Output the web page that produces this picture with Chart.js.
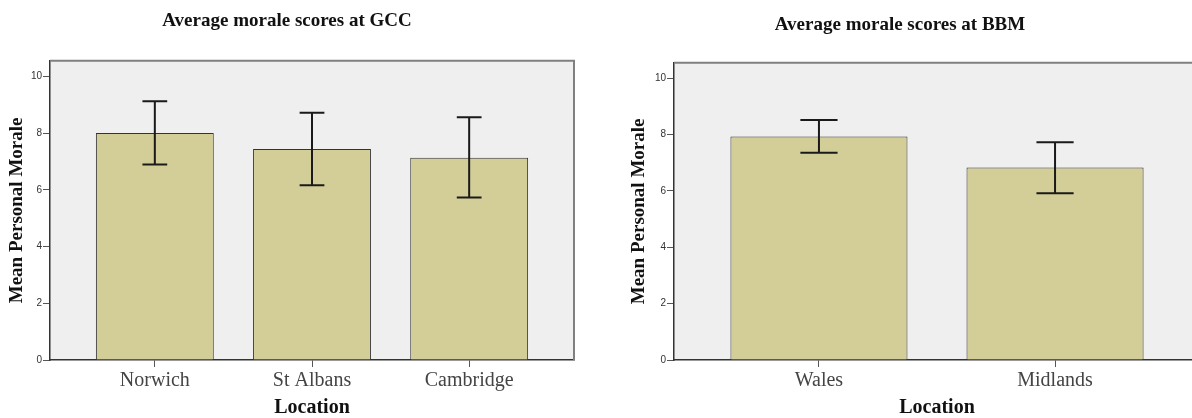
<!DOCTYPE html>
<html>
<head>
<meta charset="utf-8">
<script src="https://cdn.jsdelivr.net/npm/chart.js@4/dist/chart.umd.min.js"></script>
<style>
  html, body { margin: 0; padding: 0; background: #fff; overflow: hidden; width: 1192px; height: 418px; }
  #c1 { position: absolute; left: 0; top: 0; }
  #c2 { position: absolute; left: 600px; top: 0; }
</style>
</head>
<body>
<canvas id="c1" width="600" height="418"></canvas>
<canvas id="c2" width="620" height="418"></canvas>
<script>
// ---- data ----
const gccLocations = ['Norwich', 'St Albans', 'Cambridge'];
const gccMeans = [8.0, 7.44, 7.13];
const gccLower = [6.89, 6.16, 5.73];
const gccUpper = [9.12, 8.72, 8.56];

const bbmLocations = ['Wales', 'Midlands'];
const bbmMeans = [7.93, 6.83];
const bbmLower = [7.36, 5.92];
const bbmUpper = [8.52, 7.73];

const yTickStep = 2;
const yMin = 0;
const yMax = 10.55;

// ---- plugins ----
const frameBg = {
  id: 'frameBg',
  beforeDraw(chart) {
    const {ctx, chartArea: a} = chart;
    ctx.save();
    ctx.fillStyle = '#EFEFEF';
    ctx.fillRect(a.left, a.top, a.right - a.left, a.bottom - a.top);
    ctx.restore();
  },
  beforeDatasetsDraw(chart) {
    const {ctx, chartArea: a} = chart;
    ctx.save();
    ctx.strokeStyle = '#808080';
    ctx.lineWidth = 2;
    ctx.beginPath();
    ctx.moveTo(a.left, a.top);
    ctx.lineTo(a.right, a.top);
    ctx.lineTo(a.right, a.bottom);
    ctx.stroke();
    ctx.restore();
  }
};

const errorBars = {
  id: 'errorBars',
  afterDatasetsDraw(chart, args, opts) {
    const {ctx} = chart;
    const yScale = chart.scales.y;
    const meta = chart.getDatasetMeta(0);
    ctx.save();
    ctx.strokeStyle = '#1a1a1a';
    ctx.lineWidth = 2;
    meta.data.forEach((el, i) => {
      const x = el.x;
      const half = el.width * opts.capRatio / 2;
      const yu = yScale.getPixelForValue(opts.upper[i]);
      const yl = yScale.getPixelForValue(opts.lower[i]);
      ctx.beginPath();
      ctx.moveTo(x, yu); ctx.lineTo(x, yl);
      ctx.moveTo(x - half, yu); ctx.lineTo(x + half, yu);
      ctx.moveTo(x - half, yl); ctx.lineTo(x + half, yl);
      ctx.stroke();
    });
    ctx.restore();
  }
};

function makeChart(canvasId, cfg) {
  const cats = cfg.categories;
  return new Chart(document.getElementById(canvasId), {
    type: 'bar',
    data: {
      datasets: [{
        data: cats.map((c, i) => ({x: i, y: cfg.means[i]})),
        backgroundColor: '#D3CE98',
        borderColor: '#333333',
        borderWidth: 1,
        categoryPercentage: 1,
        barPercentage: 0.75
      }]
    },
    plugins: [frameBg, errorBars],
    options: {
      responsive: false,
      devicePixelRatio: 1,
      animation: false,
      layout: { padding: { left: 0, right: cfg.padRight, top: 0, bottom: 0 } },
      plugins: {
        legend: { display: false },
        tooltip: { enabled: false },
        title: {
          display: true,
          text: cfg.title,
          color: '#111',
          font: { family: '"Liberation Serif", serif', size: 19, weight: 'bold', lineHeight: 1.2 },
          padding: { top: cfg.titleTop, bottom: cfg.titleBottom }
        },
        errorBars: { lower: cfg.lower, upper: cfg.upper, capRatio: 0.21 }
      },
      scales: {
        x: {
          type: 'linear',
          offset: false,
          min: -cfg.xMargin,
          max: cats.length - 1 + cfg.xMargin,
          afterFit(scale) { scale.height = 58; },
          afterBuildTicks(scale) {
            scale.ticks = scale.ticks.filter(t => Number.isInteger(t.value) && t.value >= 0 && t.value < cats.length);
          },
          ticks: {
            stepSize: 1,
            includeBounds: false,
            autoSkip: false,
            maxRotation: 0,
            padding: 2,
            color: '#444',
            font: { family: '"Liberation Serif", serif', size: 20 },
            callback: (v) => cats[v]
          },
          grid: { offset: false, drawOnChartArea: false, drawTicks: true, tickLength: 7, color: '#555', lineWidth: 1 },
          border: { display: true, color: '#333', width: 1.5 },
          title: {
            display: true,
            text: 'Location',
            color: '#111',
            font: { family: '"Liberation Serif", serif', size: 20, weight: 'bold', lineHeight: 1 },
            padding: { top: 0, bottom: 0 }
          }
        },
        y: {
          min: yMin,
          max: yMax,
          afterFit(scale) { scale.width = cfg.yWidth; },
          ticks: {
            stepSize: yTickStep,
            includeBounds: false,
            padding: 1,
            color: '#333',
            font: { family: '"Liberation Sans", Arial, sans-serif', size: 10 }
          },
          grid: { drawOnChartArea: false, drawTicks: true, tickLength: 7, color: '#555', lineWidth: 1 },
          border: { display: true, color: '#333', width: 1.5 },
          title: {
            display: true,
            text: 'Mean Personal Morale',
            color: '#111',
            font: { family: '"Liberation Serif", serif', size: 19, weight: 'bold', lineHeight: 1.2 },
            padding: { top: cfg.yTitlePad, bottom: 0 }
          }
        }
      }
    }
  });
}

makeChart('c1', {
  categories: gccLocations, means: gccMeans, lower: gccLower, upper: gccUpper,
  title: 'Average morale scores at GCC',
  padRight: 26, yWidth: 50, xMargin: 0.667, yTitlePad: 6,
  titleTop: 10, titleBottom: 28
});

makeChart('c2', {
  categories: bbmLocations, means: bbmMeans, lower: bbmLower, upper: bbmUpper,
  title: 'Average morale scores at BBM',
  padRight: 20, yWidth: 74, xMargin: 0.614, yTitlePad: 28,
  titleTop: 14, titleBottom: 26
});
</script>
</body>
</html>
